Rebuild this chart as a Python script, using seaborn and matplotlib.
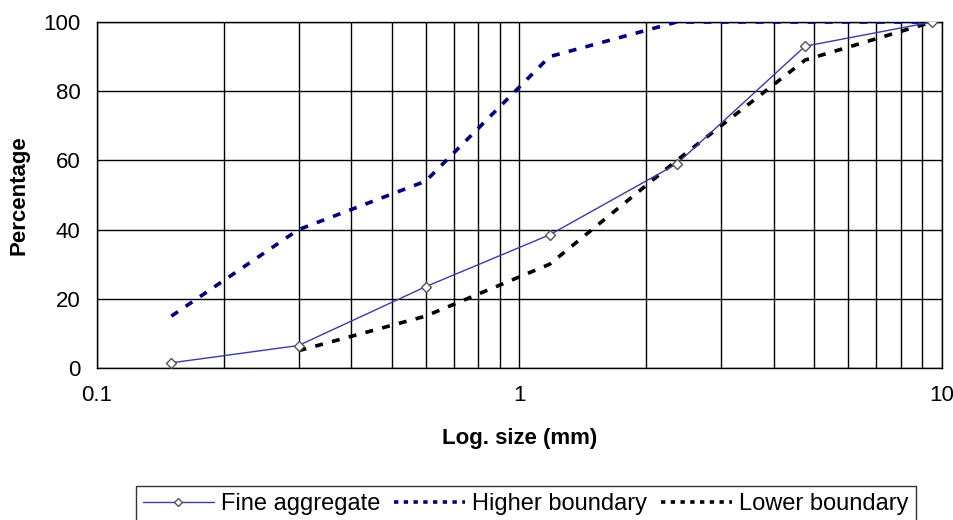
import seaborn as sns
import pandas as pd
import matplotlib.pyplot as plt
from matplotlib.lines import Line2D

# sieve sizes (mm) and percentage passing
sizes = [0.15, 0.3, 0.6, 1.18, 2.36, 4.75, 9.5]
fine_aggregate = [1.5, 6.5, 23.5, 38.5, 59, 93, 100]
higher_boundary = [15, 40, 54, 90, 100, 100, 100]
lower_sizes = [0.3, 0.6, 1.18, 2.36, 4.75, 9.5]
lower_boundary = [5, 15, 30, 60, 89, 100]

sns.set_style("white")
plt.rcParams['font.family'] = ['Liberation Sans', 'DejaVu Sans']
plt.rcParams['text.color'] = 'black'
plt.rcParams['axes.labelcolor'] = 'black'
plt.rcParams['xtick.color'] = 'black'
plt.rcParams['ytick.color'] = 'black'

fine = pd.DataFrame({"size": sizes, "pct": fine_aggregate})
high = pd.DataFrame({"size": sizes, "pct": higher_boundary})
low = pd.DataFrame({"size": lower_sizes, "pct": lower_boundary})

fig = plt.figure(figsize=(9.54, 5.2), dpi=100)
ax = fig.add_axes([0.1017, 0.2923, 0.8853, 0.6654])

sns.lineplot(data=high, x="size", y="pct", ax=ax, color="#00007f", lw=2.6,
             linestyle=(0, (2.2, 2.6)), zorder=3)
sns.lineplot(data=low, x="size", y="pct", ax=ax, color="black", lw=2.6,
             linestyle=(0, (2.2, 2.6)), zorder=3)
sns.lineplot(data=fine, x="size", y="pct", ax=ax, color="#3a3aa8", lw=1.0,
             marker="D", markersize=5.5, markerfacecolor="white",
             markeredgecolor="#555555", markeredgewidth=1.0, zorder=4)

ax.set_xscale("log")
ax.set_xlim(0.1, 10)
ax.set_ylim(0, 100)
ax.set_xticks([0.1, 1, 10])
ax.set_xticklabels(["0.1", "1", "10"])
ax.set_xticks([0.2, 0.3, 0.4, 0.5, 0.6, 0.7, 0.8, 0.9, 2, 3, 4, 5, 6, 7, 8, 9], minor=True)
ax.set_xticklabels([], minor=True)
ax.set_yticks([0, 20, 40, 60, 80, 100])

ax.grid(True, which="both", axis="x", color="black", lw=1.0)
ax.grid(True, which="major", axis="y", color="black", lw=1.0)
for s in ax.spines.values():
    s.set_color("black")
    s.set_linewidth(1.0)

ax.tick_params(axis="both", which="major", direction="out", length=8, width=1.0,
               color="black", labelcolor="black", labelsize=16, pad=4)
ax.tick_params(axis="x", which="minor", length=0)

ax.set_xlabel("Log. size (mm)", fontsize=16, fontweight="bold", labelpad=16)
ax.set_ylabel("Percentage", fontsize=16, fontweight="bold", labelpad=10)

handles = [
    Line2D([], [], color="#3a3aa8", lw=1.0, marker="D", markersize=4,
           markerfacecolor="white", markeredgecolor="#555555"),
    Line2D([], [], color="#00007f", lw=2.6, linestyle=(0, (1.2, 1.5))),
    Line2D([], [], color="black", lw=2.6, linestyle=(0, (1.2, 1.5))),
]
leg = fig.legend(handles, ["Fine aggregate", "Higher boundary", "Lower boundary"],
                 loc="upper center", bbox_to_anchor=(0.551, 0.088), ncol=3,
                 fontsize=17, frameon=True, fancybox=False, handlelength=3.0,
                 handletextpad=0.3, columnspacing=0.6, borderpad=0.3)
leg.get_frame().set_edgecolor("black")
leg.get_frame().set_linewidth(1.0)

fig.savefig("out.png", dpi=100)
